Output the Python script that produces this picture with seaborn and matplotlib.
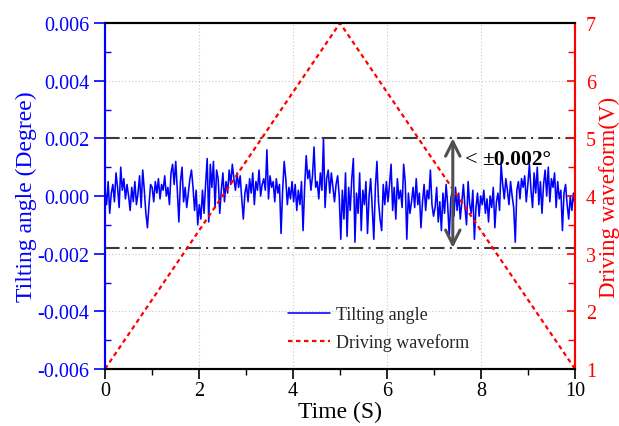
import numpy as np
import pandas as pd
import matplotlib
matplotlib.use("Agg")
import matplotlib.pyplot as plt
import seaborn as sns
from matplotlib.ticker import MultipleLocator, FormatStrFormatter

# Tilting angle samples, in units of 1e-4 degree (30 per second)
tilt_e4 = [
    2, -3, 5, -6, 1, 4, -2, 8, 3, -4, 10, 2, 6, -1, 4, 0, -5, 3, -2, 5, -3, 1, 7, -4, 9, 2, -6, -11, -3, 4,
    3, -2, 5, 1, 6, -1, 4, 2, 7, 0, 3, -3, 8, 11, 4, 12, 2, -9, 5, 10, -2, 3, -4, 1, 6, 9, 3, -5, 2, -10,
    -3, -8, 2, -6, 4, 13, -9, 11, 3, 12, -4, 9, 6, -6, 2, 8, -2, 5, 1, 9, 4, 11, 6, 2, 8, 3, 7, -1, -8, 1,
    4, -2, 6, 1, 8, -3, 5, 2, 9, 0, 4, 6, 2, 16, -1, 7, 3, 5, -2, 6, 1, 4, -13, 2, 12, 6, -3, 3, -1, 5,
    -2, 4, -5, 2, -3, 5, -12, 3, 14, 6, 9, 2, 7, 17, 3, 5, -1, 8, 2, 20, -4, 6, 9, 1, 8, 3, -2, 4, 7, 0,
    -15, 2, -8, 8, -14, 3, -5, 6, 13, -16, 1, -6, 8, -12, 2, -3, 5, -13, 0, 6, -4, -15, 3, 12, -2, -8, -12, 4, -3, 5,
    -2, 4, 11, -5, 3, -8, 6, -1, 2, -4, 11, 5, -15, 1, -6, -2, 3, -4, 6, -3, 1, -11, -2, 4, -5, 2, -1, 9, -3, -7,
    -4, 3, -9, -2, -12, 1, -6, 4, -3, -14, -1, 2, -7, 3, -5, 1, -8, -2, 4, -4, -10, 5, -3, -6, 2, -15, -4, 1, -7, 0,
    -3, 2, -6, -1, -9, 0, -4, 3, -11, -2, 1, -5, 11, 4, -1, 6, 2, -3, 5, 0, -4, -16, 2, 5, -1, 6, 3, 7, -2, 4,
    11, 2, -4, 8, 1, 10, -3, 5, -6, 4, 9, 0, 10, -2, 6, 3, 8, -4, 5, -1, 2, -12, 1, 4, -3, -8, 0, -5, 1, -3,
]
time_s = np.linspace(0, 10, len(tilt_e4))
tilt_deg = np.array(tilt_e4) * 1e-4

drive_time = [0, 5, 10]
drive_volt = [1, 7, 1]

band_upper = 0.002
band_lower = -0.0018
arrow_time = 7.4
band_text = "±0.002°"

df_tilt = pd.DataFrame({"Time": time_s, "Tilt": tilt_deg})
df_drive = pd.DataFrame({"Time": drive_time, "Volt": drive_volt})

sns.set_theme(style="white")
plt.rcParams["font.family"] = ["Liberation Serif", "DejaVu Serif"]

fig = plt.figure(figsize=(6.19, 4.27), dpi=100)
ax = fig.add_axes([105 / 619, 57 / 427, 470 / 619, 346 / 427])
ax2 = ax.twinx()

sns.lineplot(data=df_tilt, x="Time", y="Tilt", ax=ax, color="#0000ff", lw=1.15,
             label="Tilting angle", legend=False)
sns.lineplot(data=df_drive, x="Time", y="Volt", ax=ax2, color="#ff0000", lw=1.6,
             linestyle=(0, (2, 1.6)), label="Driving waveform", legend=False)

for yv in (band_upper, band_lower):
    ax.axhline(yv, color="#3a3a3a", lw=1.5, linestyle=(0, (7, 2.5, 1, 2.5)), zorder=3)

ax2.annotate("", xy=(arrow_time, band_upper), xytext=(arrow_time, band_lower),
             xycoords=ax.transData, textcoords=ax.transData,
             arrowprops=dict(arrowstyle="<->", color="#505050", lw=2.2, mutation_scale=26,
                             shrinkA=0, shrinkB=0))
ax2.text(7.66, 0.00128, "<", transform=ax.transData, fontsize=16, va="center", ha="left", color="black")
ax2.text(8.02, 0.00128, band_text, transform=ax.transData, fontsize=15.5, fontweight="bold",
         va="center", ha="left", color="black")

ax.set_xlim(0, 10)
ax.set_ylim(-0.006, 0.006)
ax2.set_ylim(1, 7)

ax.xaxis.set_major_locator(MultipleLocator(2))
ax.xaxis.set_minor_locator(MultipleLocator(1))
ax.yaxis.set_major_locator(MultipleLocator(0.002))
ax.yaxis.set_minor_locator(MultipleLocator(0.001))
ax.yaxis.set_major_formatter(FormatStrFormatter("%.3f"))
ax2.yaxis.set_major_locator(MultipleLocator(1))
ax2.yaxis.set_minor_locator(MultipleLocator(0.5))

ax.grid(True, which="major", color="#c8c8c8", linestyle=(0, (1, 2)), lw=0.8)
ax2.grid(False)

ax.tick_params(axis="y", which="major", direction="out", length=8, width=1.2, colors="#0000ff",
               labelsize=14.5, left=True)
ax.tick_params(axis="y", which="minor", direction="in", length=4, width=1.0, color="#0000ff", left=True)
ax.tick_params(axis="x", which="major", direction="out", length=7, width=1.2, colors="black",
               labelsize=14.5, bottom=True, pad=2)
ax.tick_params(axis="x", which="minor", direction="out", length=4, width=1.0, color="black", bottom=True)
ax2.tick_params(axis="y", which="major", direction="in", length=6, width=1.2, colors="#ff0000",
                labelsize=14.5, right=True, pad=8)
ax2.tick_params(axis="y", which="minor", direction="in", length=5, width=1.0, color="#ff0000", right=True)

for a in (ax, ax2):
    a.spines["top"].set_color("black")
    a.spines["bottom"].set_color("black")
    a.spines["left"].set_color("#0000ff")
    a.spines["right"].set_color("#ff0000")
    for s in a.spines.values():
        s.set_linewidth(1.5)

ax.set_xlabel("Time (S)", fontsize=17, color="black", labelpad=0)
ax.set_ylabel("Tilting angle (Degree)", fontsize=17, color="#0000ff", labelpad=0)
ax2.set_ylabel("Driving waveform(V)", fontsize=16.5, color="#ff0000", labelpad=2)

h1, l1 = ax.get_legend_handles_labels()
h2, l2 = ax2.get_legend_handles_labels()
leg = ax2.legend(h1 + h2, l1 + l2, loc="lower left", bbox_to_anchor=(0.355, 0.005), frameon=False,
                 fontsize=13, handlelength=2.3, handletextpad=0.35, labelspacing=0.55)

fig.savefig("out.png", dpi=100)
